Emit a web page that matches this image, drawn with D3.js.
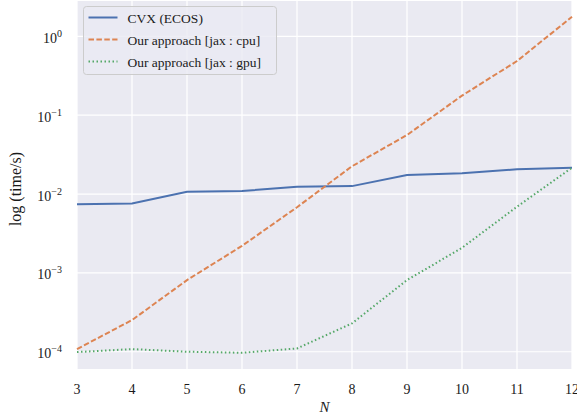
<!doctype html>
<html lang="en">
  <head>
    <meta charset="UTF-8" />
    <title>Timing comparison</title>
    <script src="https://d3js.org/d3.v7.min.js"></script>
    <style>
      body {
        margin: 0;
        background: #fff;
      }
      text {
        font-family: 'Liberation Serif', 'DejaVu Serif', serif;
        fill: #1a1a1a;
      }
    </style>
  </head>
  <body>
    <div id="chart"></div>
    <script>
      // data
      const sizes = [3, 4, 5, 6, 7, 8, 9, 10, 11, 12];
      const cvxTimes = [0.0074, 0.0076, 0.0107, 0.0109, 0.0124, 0.0126, 0.0174, 0.0183, 0.0206, 0.0216];
      const cpuTimes = [1.08e-4, 2.52e-4, 8.1e-4, 2.2e-3, 6.8e-3, 0.0225, 0.056, 0.177, 0.486, 1.77];
      const gpuTimes = [9.9e-5, 1.08e-4, 1.0e-4, 9.7e-5, 1.1e-4, 2.29e-4, 8.1e-4, 2.08e-3, 6.9e-3, 0.0216];
      const seriesNames = ['CVX (ECOS)', 'Our approach [jax : cpu]', 'Our approach [jax : gpu]'];
      const yTickValues = [1e-4, 1e-3, 1e-2, 1e-1, 1];
      const yTickExponents = ['\u22124', '\u22123', '\u22122', '\u22121', '0'];

      const W = 577;
      const H = 419;
      const margin = { top: 1, right: 5, bottom: 50, left: 77 };
      const width = W - margin.left - margin.right;
      const height = H - margin.top - margin.bottom;

      const svg = d3
        .select('#chart')
        .append('svg')
        .attr('width', W)
        .attr('height', H);
      const g = svg
        .append('g')
        .attr('transform', 'translate(' + margin.left + ',' + margin.top + ')');

      const x = d3.scaleLinear().domain([3, 12]).range([0, width]);
      const y = d3
        .scaleLog()
        .domain([Math.pow(10, -4.219), Math.pow(10, 0.448)])
        .range([height, 0]);

      // background
      g.append('rect')
        .attr('width', width)
        .attr('height', height)
        .attr('fill', '#eaeaf2');

      // grid
      g.selectAll('.vgrid')
        .data(sizes)
        .enter()
        .append('line')
        .attr('x1', (d) => x(d))
        .attr('x2', (d) => x(d))
        .attr('y1', 0)
        .attr('y2', height)
        .attr('stroke', '#fff')
        .attr('stroke-width', 1.2);
      g.selectAll('.hgrid')
        .data(yTickValues)
        .enter()
        .append('line')
        .attr('x1', 0)
        .attr('x2', width)
        .attr('y1', (d) => y(d))
        .attr('y2', (d) => y(d))
        .attr('stroke', '#fff')
        .attr('stroke-width', 1.2);

      // x tick labels (the last one runs off the edge, as in the original)
      g.selectAll('.xlab')
        .data(sizes)
        .enter()
        .append('text')
        .attr('x', (d) => x(d))
        .attr('y', height + 25)
        .attr('text-anchor', 'middle')
        .style('font-size', '14px')
        .text((d) => d);

      // y tick labels
      const yl = g
        .selectAll('.ylab')
        .data(yTickValues)
        .enter()
        .append('text')
        .attr('x', -15)
        .attr('y', (d) => y(d) + 6.5)
        .attr('text-anchor', 'end')
        .style('font-size', '14px');
      yl.append('tspan').text('10');
      yl.append('tspan')
        .attr('dy', -6)
        .style('font-size', '10px')
        .text((d, i) => yTickExponents[i]);

      // axis titles
      svg
        .append('text')
        .attr('x', margin.left + width / 2)
        .attr('y', 411.5)
        .attr('text-anchor', 'middle')
        .style('font-size', '15px')
        .style('font-style', 'italic')
        .text('N');
      svg
        .append('text')
        .attr('transform', 'translate(21,189) rotate(-90)')
        .attr('text-anchor', 'middle')
        .style('font-size', '16px')
        .text('log (time/s)');

      // lines
      const series = [
        { name: seriesNames[0], values: cvxTimes, color: '#4c72b0', dash: null },
        { name: seriesNames[1], values: cpuTimes, color: '#dd8452', dash: '5.5,2.4' },
        { name: seriesNames[2], values: gpuTimes, color: '#55a868', dash: '1.5,2.5' },
      ];
      const line = d3
        .line()
        .x((d) => x(d[0]))
        .y((d) => y(d[1]));
      const plot = g.append('g');
      series.forEach((s) => {
        plot
          .append('path')
          .datum(sizes.map((n, i) => [n, s.values[i]]))
          .attr('d', line)
          .attr('fill', 'none')
          .attr('stroke', s.color)
          .attr('stroke-width', 2)
          .attr('stroke-dasharray', s.dash);
      });

      // legend
      const legend = svg.append('g').attr('transform', 'translate(83.5,6.5)');
      legend
        .append('rect')
        .attr('width', 193)
        .attr('height', 68)
        .attr('rx', 3)
        .attr('fill', '#eaeaf2')
        .attr('fill-opacity', 0.8)
        .attr('stroke', '#cccccc');
      series.forEach((s, i) => {
        const row = legend.append('g').attr('transform', 'translate(0,' + (11 + i * 22) + ')');
        row
          .append('line')
          .attr('x1', 5)
          .attr('x2', 34)
          .attr('stroke', s.color)
          .attr('stroke-width', 2)
          .attr('stroke-dasharray', s.dash);
        row
          .append('text')
          .attr('x', 44)
          .attr('y', 5)
          .style('font-size', '13.5px')
          .text(s.name);
      });
    </script>
  </body>
</html>
